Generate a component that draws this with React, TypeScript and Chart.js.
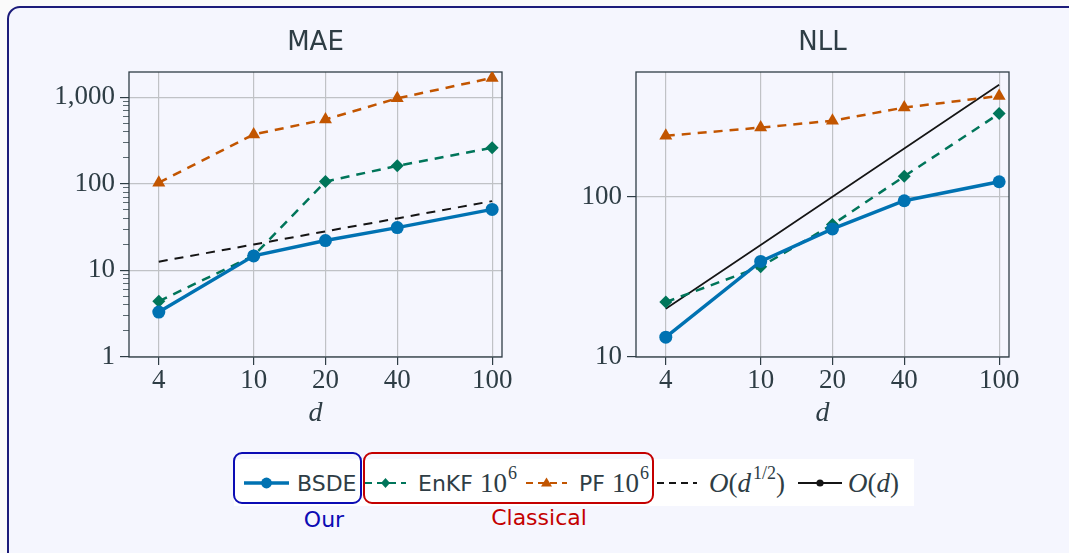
import React, { useEffect, useRef } from "react";
import { Chart, registerables } from "chart.js";

Chart.register(...registerables);

// Problem dimensions on the x axis
const dims = [4, 10, 20, 40, 100];

// MAE panel
const maeBSDE = [3.3, 14.7, 22.1, 31.2, 50.5];
const maeEnKF = [4.4, 14.8, 106, 161, 260];
const maePF = [103, 371, 553, 968, 1665];
const maeSqrtRef = [12.6, 19.9, 28.2, 39.8, 63.0];

// NLL panel
const nllBSDE = [13.3, 39.5, 63, 94.4, 124];
const nllEnKF = [22, 36.6, 67, 134, 330];
const nllPF = [240, 270, 298, 360, 425];
const nllLinearRef = [20, 50, 100, 200, 500];

// Tick values
const xTicks = [4, 10, 20, 40, 100];
const maeYTicks = [1, 10, 100, 1000];
const maeYMinorTicks = [
  2, 3, 4, 5, 6, 7, 8, 9,
  20, 30, 40, 50, 60, 70, 80, 90,
  200, 300, 400, 500, 600, 700, 800, 900,
];
const nllYTicks = [10, 100];

const BLUE = "#0072b2";
const GREEN = "#00755a";
const ORANGE = "#c25500";
const BLACK = "#151515";
const TEXT = "#2e3d45";
const AXIS = "#2e3d45";
const GRID = "#c0c2c6";
const SANS = "'DejaVu Sans', sans-serif";
const SERIF = "'Liberation Serif', serif";
const DASH = [9, 7];

const toPoints = (ys: number[]) => dims.map((d, i) => ({ x: d, y: ys[i] }));

const panelTitle = {
  id: "panelTitle",
  afterDraw(chart: any, _args: any, opts: any) {
    const { ctx, chartArea } = chart;
    ctx.save();
    ctx.font = `26px ${SANS}`;
    ctx.fillStyle = TEXT;
    ctx.textAlign = "center";
    ctx.textBaseline = "middle";
    ctx.fillText(opts.text, (chartArea.left + chartArea.right) / 2, chartArea.top - 29);
    ctx.restore();
  },
};

const plotFrame = {
  id: "plotFrame",
  beforeDatasetsDraw(chart: any) {
    const { ctx, chartArea } = chart;
    ctx.save();
    ctx.strokeStyle = AXIS;
    ctx.lineWidth = 1.3;
    ctx.strokeRect(chartArea.left, chartArea.top, chartArea.right - chartArea.left, chartArea.bottom - chartArea.top);
    ctx.restore();
  },
};

type PanelCfg = {
  title: string;
  yMin: number;
  yMax: number;
  yTicks: number[];
  yMinor?: number[];
  yWidth: number;
  padRight: number;
  series: any[];
};

function buildConfig(cfg: PanelCfg): any {
  const scales: any = {
    x: {
      type: "logarithmic",
      min: 3,
      max: 110,
      position: "bottom",
      afterBuildTicks: (s: any) => {
        s.ticks = xTicks.map((v) => ({ value: v }));
      },
      afterFit: (s: any) => {
        s.height = 76;
      },
      ticks: {
        autoSkip: false,
        maxRotation: 0,
        padding: 2,
        color: TEXT,
        font: { family: SERIF, size: 27, lineHeight: 1 },
        callback: (v: number) => String(v),
      },
      grid: { color: GRID, lineWidth: 1.2, tickColor: AXIS, tickLength: 8, tickWidth: 1.2 },
      border: { display: false },
      title: {
        display: true,
        text: "d",
        color: TEXT,
        font: { family: SERIF, size: 28, style: "italic", lineHeight: 1 },
        padding: { top: 0, bottom: 5 },
      },
    },
    y: {
      type: "logarithmic",
      min: cfg.yMin,
      max: cfg.yMax,
      position: "left",
      weight: 1,
      afterBuildTicks: (s: any) => {
        s.ticks = cfg.yTicks.map((v) => ({ value: v }));
      },
      afterFit: (s: any) => {
        s.width = cfg.yWidth;
      },
      ticks: {
        padding: 5,
        color: TEXT,
        font: { family: SERIF, size: 27, lineHeight: 1 },
        callback: (v: number) => Number(v).toLocaleString("en-US"),
      },
      grid: { color: GRID, lineWidth: 1.2, tickColor: AXIS, tickLength: 9, tickWidth: 1.2 },
      border: { display: false },
    },
  };
  if (cfg.yMinor) {
    const minor = cfg.yMinor;
    scales.yMinor = {
      type: "logarithmic",
      min: cfg.yMin,
      max: cfg.yMax,
      position: "left",
      weight: 0,
      afterBuildTicks: (s: any) => {
        s.ticks = minor.map((v) => ({ value: v }));
      },
      afterFit: (s: any) => {
        s.width = 0;
      },
      ticks: { display: false },
      grid: { drawOnChartArea: false, tickColor: "#5a6870", tickLength: 6, tickWidth: 1 },
      border: { display: false },
    };
  }
  return {
    type: "line",
    data: { datasets: cfg.series },
    options: {
      animation: false,
      responsive: false,
      maintainAspectRatio: false,
      layout: { padding: { top: 64, right: cfg.padRight, left: 0, bottom: 0 } },
      plugins: {
        legend: { display: false },
        tooltip: { enabled: false },
        panelTitle: { text: cfg.title },
      },
      scales,
    },
    plugins: [panelTitle, plotFrame],
  };
}

function lineSeries(data: number[], kind: "bsde" | "enkf" | "pf" | "sqrt" | "lin", order: number) {
  const base: any = { data: toPoints(data), order, tension: 0, fill: false };
  if (kind === "bsde")
    return { ...base, borderColor: BLUE, backgroundColor: BLUE, borderWidth: 3.4, pointStyle: "circle", pointRadius: 6.5, pointBorderWidth: 0 };
  if (kind === "enkf")
    return { ...base, borderColor: GREEN, backgroundColor: GREEN, borderWidth: 2.5, borderDash: DASH, pointStyle: "rectRot", pointRadius: 6.5, pointBorderWidth: 0 };
  if (kind === "pf")
    return { ...base, borderColor: ORANGE, backgroundColor: ORANGE, borderWidth: 2.5, borderDash: DASH, pointStyle: "triangle", pointRadius: 7.5, pointBorderWidth: 0 };
  if (kind === "sqrt")
    return { ...base, borderColor: BLACK, borderWidth: 2, borderDash: DASH, pointRadius: 0 };
  return { ...base, borderColor: BLACK, borderWidth: 1.7, pointRadius: 0 };
}

function Panel({ cfg, left }: { cfg: PanelCfg; left: number }) {
  const ref = useRef<HTMLCanvasElement>(null);
  useEffect(() => {
    const chart = new Chart(ref.current as HTMLCanvasElement, buildConfig(cfg));
    return () => chart.destroy();
  }, []);
  return (
    <canvas
      ref={ref}
      width={500}
      height={425}
      style={{ position: "absolute", left, top: 8, width: 500, height: 425 }}
    />
  );
}

function Swatch({ kind, left, width }: { kind: string; left: number; width: number }) {
  const y = 15;
  const mid = width / 2;
  let stroke = BLACK;
  let sw = 2;
  let dash: string | undefined;
  let marker: React.ReactNode = null;
  if (kind === "bsde") {
    stroke = BLUE;
    sw = 3.5;
    marker = <circle cx={mid} cy={y} r={5.4} fill={BLUE} />;
  } else if (kind === "enkf") {
    stroke = GREEN;
    sw = 2.2;
    dash = "7 5";
    marker = <polygon points={`${mid},${y - 5} ${mid + 4.5},${y} ${mid},${y + 5} ${mid - 4.5},${y}`} fill={GREEN} />;
  } else if (kind === "pf") {
    stroke = ORANGE;
    sw = 2.2;
    dash = "7 5";
    marker = <polygon points={`${mid},${y - 5.5} ${mid + 5.5},${y + 3.5} ${mid - 5.5},${y + 3.5}`} fill={ORANGE} />;
  } else if (kind === "sqrt") {
    sw = 1.9;
    dash = "7 5";
  } else {
    sw = 2;
    marker = <circle cx={mid} cy={y} r={3.6} fill={BLACK} />;
  }
  return (
    <svg width={width} height={30} style={{ position: "absolute", left, top: 468 }}>
      <line x1={0} y1={y} x2={width} y2={y} stroke={stroke} strokeWidth={sw} strokeDasharray={dash} />
      {marker}
    </svg>
  );
}

const labelStyle = (left: number): React.CSSProperties => ({
  position: "absolute",
  left,
  top: 468,
  height: 30,
  display: "flex",
  alignItems: "center",
  whiteSpace: "nowrap",
  color: TEXT,
  fontFamily: SANS,
  fontSize: 22,
});

const mathStyle: React.CSSProperties = { fontFamily: SERIF, fontSize: 27 };
const supStyle: React.CSSProperties = { fontSize: 18, position: "relative", top: -10, marginLeft: 1 };

function Legend() {
  return (
    <>
      <div style={{ position: "absolute", left: 234, top: 459, width: 680, height: 47, background: "#ffffff" }} />
      <div style={{ position: "absolute", left: 233, top: 452, width: 129, height: 52, boxSizing: "border-box", border: "2px solid #0c0cb4", borderRadius: 9 }} />
      <div style={{ position: "absolute", left: 363, top: 452, width: 291, height: 52, boxSizing: "border-box", border: "2px solid #c40000", borderRadius: 9 }} />

      <Swatch kind="bsde" left={244} width={45} />
      <div style={labelStyle(297)}>BSDE</div>

      <Swatch kind="enkf" left={365} width={41} />
      <div style={labelStyle(418)}>
        EnKF&nbsp;<span style={mathStyle}>10</span>
        <span style={{ ...mathStyle, ...supStyle }}>6</span>
      </div>

      <Swatch kind="pf" left={526} width={41} />
      <div style={labelStyle(579)}>
        PF&nbsp;<span style={mathStyle}>10</span>
        <span style={{ ...mathStyle, ...supStyle }}>6</span>
      </div>

      <Swatch kind="sqrt" left={657} width={40} />
      <div style={labelStyle(709)}>
        <span style={mathStyle}>
          <i>O</i>(<i>d</i>
        </span>
        <span style={{ ...mathStyle, ...supStyle, marginLeft: 2 }}>1/2</span>
        <span style={mathStyle}>)</span>
      </div>

      <Swatch kind="lin" left={798} width={44} />
      <div style={labelStyle(848)}>
        <span style={mathStyle}>
          <i>O</i>(<i>d</i>)
        </span>
      </div>

      <div style={{ position: "absolute", left: 284, width: 80, top: 507, textAlign: "center", color: "#0c0cb4", fontFamily: SANS, fontSize: 22 }}>Our</div>
      <div style={{ position: "absolute", left: 479, width: 120, top: 505, textAlign: "center", color: "#c40000", fontFamily: SANS, fontSize: 22 }}>Classical</div>
    </>
  );
}

const maeCfg: PanelCfg = {
  title: "MAE",
  yMin: 1,
  yMax: 1950,
  yTicks: maeYTicks,
  yMinor: maeYMinorTicks,
  yWidth: 109,
  padRight: 18,
  series: [
    lineSeries(maeBSDE, "bsde", 1),
    lineSeries(maeEnKF, "enkf", 2),
    lineSeries(maePF, "pf", 3),
    lineSeries(maeSqrtRef, "sqrt", 4),
  ],
};

const nllCfg: PanelCfg = {
  title: "NLL",
  yMin: 10,
  yMax: 600,
  yTicks: nllYTicks,
  yWidth: 106,
  padRight: 21,
  series: [
    lineSeries(nllBSDE, "bsde", 1),
    lineSeries(nllEnKF, "enkf", 2),
    lineSeries(nllPF, "pf", 3),
    lineSeries(nllLinearRef, "lin", 4),
  ],
};

export default function App() {
  useEffect(() => {
    document.body.style.margin = "0";
    document.body.style.background = "#fafafa";
  }, []);
  return (
    <div style={{ position: "relative", width: 1069, height: 553, overflow: "hidden", background: "#fafafa" }}>
      <div
        style={{
          position: "absolute",
          left: 7,
          top: 6,
          width: 1080,
          height: 570,
          boxSizing: "border-box",
          border: "2px solid #1c1c7a",
          borderRadius: 13,
          background: "#f5f6fe",
        }}
      />
      <Panel cfg={maeCfg} left={20} />
      <Panel cfg={nllCfg} left={530} />
      <Legend />
    </div>
  );
}
